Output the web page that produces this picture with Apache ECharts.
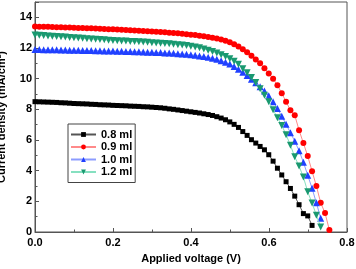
<!DOCTYPE html>
<html><head><meta charset="utf-8">
<script src="https://cdn.jsdelivr.net/npm/echarts@6/dist/echarts.min.js"></script>
<style>html,body{margin:0;padding:0;background:#fff}#c{width:356px;height:269px}</style>
</head><body><div id="c"></div>
<script>
var seriesNames = ['0.8 ml', '0.9 ml', '1.0 ml', '1.2 ml'];
var voltage = [0,0.0111,0.0222,0.0333,0.0444,0.0555,0.0666,0.0777,0.0888,0.0999,
0.111,0.1221,0.1332,0.1443,0.1554,0.1665,0.1776,0.1887,0.1998,0.2109,
0.222,0.2331,0.2442,0.2553,0.2664,0.2775,0.2886,0.2997,0.3108,0.3219,
0.333,0.3441,0.3552,0.3663,0.3774,0.3885,0.3996,0.4107,0.4218,0.4329,
0.444,0.4551,0.4662,0.4773,0.4884,0.4995,0.5106,0.5217,0.5328,0.5439,
0.555,0.5661,0.5772,0.5883,0.5994,0.6105,0.6216,0.6327,0.6438,0.6549,
0.666,0.6771,0.6882,0.6993,0.7104,0.7215,0.7326,0.7437,0.7548];
var j08 = [8.50,8.49,8.48,8.47,8.46,8.45,8.43,8.42,8.40,8.38,
8.37,8.36,8.35,8.33,8.32,8.30,8.29,8.28,8.26,8.25,
8.24,8.23,8.21,8.20,8.19,8.17,8.16,8.14,8.12,8.10,
8.07,8.03,8.00,7.96,7.92,7.88,7.84,7.80,7.76,7.71,
7.66,7.60,7.52,7.43,7.32,7.18,7.02,6.82,6.55,6.30,
6.02,5.80,5.58,5.36,5.04,4.62,4.16,3.72,3.28,2.84,
2.34,1.78,1.20,1.05,0.43];
var j09 = [13.40,13.39,13.38,13.38,13.37,13.36,13.35,13.34,13.33,13.32,
13.31,13.30,13.29,13.28,13.27,13.26,13.24,13.23,13.22,13.20,
13.19,13.17,13.16,13.14,13.13,13.11,13.10,13.08,13.06,13.04,
13.02,13.00,12.98,12.96,12.93,12.90,12.87,12.84,12.80,12.76,
12.72,12.67,12.62,12.56,12.48,12.38,12.25,12.10,11.92,11.72,
11.50,11.25,11.00,10.68,10.34,10.00,9.57,9.05,8.50,7.94,
7.62,6.64,5.80,4.95,3.97,3.00,1.90,1.24,0.13];
var j10 = [11.90,11.90,11.89,11.89,11.88,11.88,11.87,11.87,11.86,11.86,
11.85,11.84,11.84,11.83,11.82,11.82,11.81,11.80,11.80,11.79,
11.78,11.77,11.77,11.76,11.75,11.74,11.73,11.72,11.71,11.70,
11.68,11.67,11.65,11.63,11.61,11.59,11.56,11.52,11.48,11.44,
11.39,11.33,11.26,11.17,11.07,10.95,10.80,10.62,10.42,10.20,
9.97,9.73,9.48,9.20,8.88,8.50,8.05,7.55,7.02,6.48,
5.92,5.30,4.55,3.70,2.85,1.90,0.90];
var j12 = [12.85,12.83,12.81,12.79,12.77,12.75,12.73,12.71,12.69,12.67,
12.65,12.63,12.61,12.59,12.57,12.55,12.53,12.51,12.49,12.48,
12.46,12.45,12.43,12.42,12.40,12.39,12.37,12.35,12.33,12.31,
12.29,12.27,12.25,12.22,12.19,12.16,12.12,12.07,12.01,11.94,
11.86,11.77,11.67,11.56,11.44,11.30,11.13,10.94,10.65,10.38,
10.08,9.75,9.35,8.92,8.50,7.98,7.45,6.95,6.35,5.66,
4.90,4.30,3.58,2.62,1.89,1.10,0.33];
var xTicks = [0, 0.2, 0.4, 0.6, 0.8];
var yTicks = [0, 2, 4, 6, 8, 10, 12, 14];

function pairs(v, j) { return j.map(function (y, i) { return [v[i], y]; }); }

var styles = [
  {symbol: 'rect', size: 5, color: '#000000', line: '#555555', rot: 0},
  {symbol: 'circle', size: 6, color: '#ff0000', line: '#ff8a8a', rot: 0},
  {symbol: 'triangle', size: 7, color: '#2040ff', line: '#8c9cff', rot: 0},
  {symbol: 'triangle', size: 7, color: '#1a9970', line: '#86e0c0', rot: 180}
];
var allJ = [j08, j09, j10, j12];
var series = allJ.map(function (j, i) {
  var s = styles[i];
  return {
    name: seriesNames[i], type: 'line', data: pairs(voltage, j),
    symbol: s.symbol, symbolSize: s.size, symbolRotate: s.rot,
    itemStyle: {color: s.color},
    lineStyle: {color: s.line, width: 1},
    emphasis: {disabled: true}, animation: false, z: 2 + i
  };
});

var axisColor = '#555';
var font = 'Liberation Sans, Arial';
var chart = echarts.init(document.getElementById('c'), null, {renderer: 'canvas'});
chart.setOption({
  animation: false,
  backgroundColor: '#fff',
  grid: {left: 35, right: 9, top: 2, bottom: 37, show: true, borderColor: axisColor, borderWidth: 1, outerBoundsMode: 'none', containLabel: false},
  legend: {
    data: seriesNames, orient: 'vertical', left: 68, top: 124,
    padding: [5, 3, 5, 2], itemGap: 1.5, itemWidth: 25, itemHeight: 6,
    borderColor: '#444', borderWidth: 1, borderRadius: 0,
    textStyle: {fontFamily: font, fontWeight: 'bold', fontSize: 11, color: '#000'}
  },
  xAxis: {
    type: 'value', min: xTicks[0], max: xTicks[xTicks.length - 1], interval: 0.2,
    name: 'Applied voltage (V)', nameLocation: 'middle', nameGap: 21,
    nameTextStyle: {fontFamily: font, fontWeight: 'bold', fontSize: 11, color: '#000'},
    axisLine: {lineStyle: {color: axisColor, width: 1}},
    axisTick: {inside: true, length: 4, lineStyle: {color: axisColor}},
    minorTick: {show: true, splitNumber: 2, length: 2.5, lineStyle: {color: axisColor}},
    splitLine: {show: false},
    axisLabel: {margin: 5, fontFamily: font, fontWeight: 'bold', fontSize: 11, color: '#000',
      formatter: function (v) { return v.toFixed(1); }}
  },
  yAxis: {
    type: 'value', min: 0, max: 15, interval: 2,
    name: 'Current density (mA/cm²)', nameLocation: 'middle', nameGap: 28, nameMoveOverlap: false,
    nameTextStyle: {fontFamily: font, fontWeight: 'bold', fontSize: 11, color: '#000', lineHeight: 11, padding: 0},
    axisLine: {lineStyle: {color: axisColor, width: 1}},
    axisTick: {inside: true, length: 4, lineStyle: {color: axisColor}},
    minorTick: {show: true, splitNumber: 2, length: 2.5, lineStyle: {color: axisColor}},
    splitLine: {show: false},
    axisLabel: {margin: 3, showMaxLabel: false, fontFamily: font, fontWeight: 'bold', fontSize: 11, color: '#000',
      formatter: function (v) { return yTicks.indexOf(v) >= 0 ? String(v) : ''; }}
  },
  series: series
});
</script></body></html>
